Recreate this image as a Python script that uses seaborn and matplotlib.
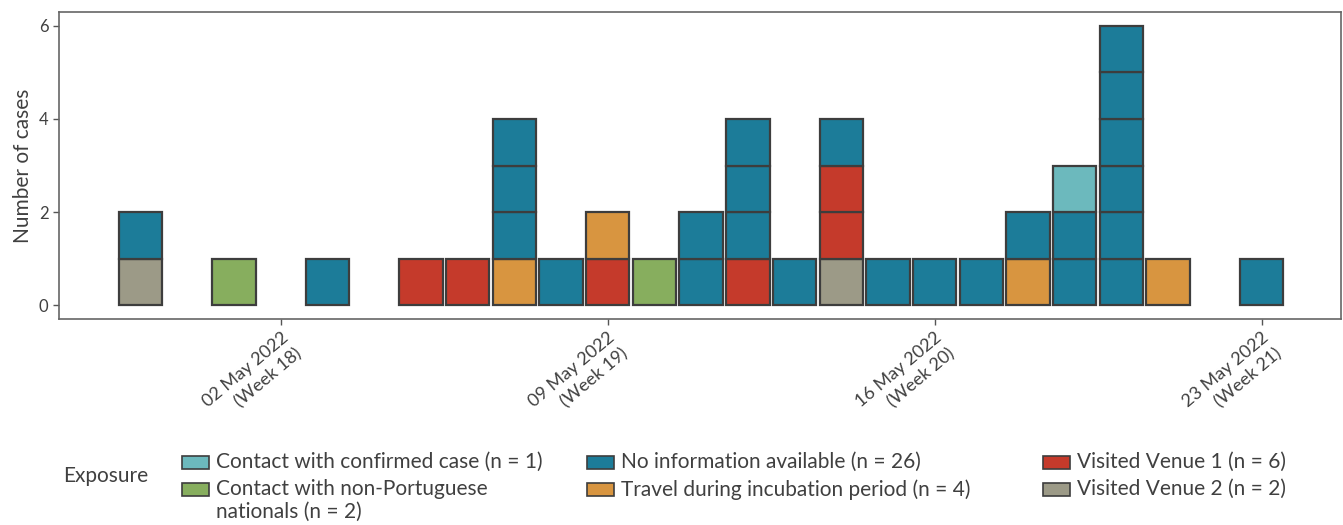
import numpy as np
import pandas as pd
import matplotlib
matplotlib.use("Agg")
import matplotlib.pyplot as plt
from matplotlib.patches import Rectangle
import seaborn as sns

# ---- data ----
dates = ["2022-04-29", "2022-05-01", "2022-05-03", "2022-05-05", "2022-05-06",
         "2022-05-07", "2022-05-08", "2022-05-09", "2022-05-10", "2022-05-11",
         "2022-05-12", "2022-05-13", "2022-05-14", "2022-05-15", "2022-05-16",
         "2022-05-17", "2022-05-18", "2022-05-19", "2022-05-20", "2022-05-21",
         "2022-05-23"]
contact_confirmed = [0, 0, 0, 0, 0, 0, 0, 0, 0, 0, 0, 0, 0, 0, 0, 0, 0, 1, 0, 0, 0]
contact_nonport   = [0, 1, 0, 0, 0, 0, 0, 0, 1, 0, 0, 0, 0, 0, 0, 0, 0, 0, 0, 0, 0]
no_information    = [1, 0, 1, 0, 0, 3, 1, 0, 0, 2, 3, 1, 1, 1, 1, 1, 1, 2, 6, 0, 1]
travel            = [0, 0, 0, 0, 0, 1, 0, 1, 0, 0, 0, 0, 0, 0, 0, 0, 1, 0, 0, 1, 0]
venue1            = [0, 0, 0, 1, 1, 0, 0, 1, 0, 0, 1, 0, 2, 0, 0, 0, 0, 0, 0, 0, 0]
venue2            = [1, 0, 0, 0, 0, 0, 0, 0, 0, 0, 0, 0, 1, 0, 0, 0, 0, 0, 0, 0, 0]

categories = ["Contact with confirmed case (n = 1)",
              "Contact with non-Portuguese\nnationals (n = 2)",
              "No information available (n = 26)",
              "Travel during incubation period (n = 4)",
              "Visited Venue 1 (n = 6)",
              "Visited Venue 2 (n = 2)"]
colors = ["#6cb9bd", "#87ae5e", "#1c7c99", "#d89540", "#c53a2b", "#9c9a87"]
tick_dates = ["2022-05-02", "2022-05-09", "2022-05-16", "2022-05-23"]
tick_labels = ["02 May 2022\n(Week 18)", "09 May 2022\n(Week 19)",
               "16 May 2022\n(Week 20)", "23 May 2022\n(Week 21)"]

series = [contact_confirmed, contact_nonport, no_information, travel, venue1, venue2]

# ---- style ----
sns.set_theme(style="white")
plt.rcParams['font.family'] = ['Lato', 'DejaVu Sans']
text_col = "#404040"

W, H = 1343, 525
fig = plt.figure(figsize=(W / 100, H / 100), dpi=100)
ax = fig.add_axes([0.0439, 0.3924, 0.9546, 0.5847])

ref = pd.Timestamp("2022-05-02")
x = np.array([(pd.Timestamp(d) - ref).days for d in dates], dtype=float)

# long-format table of individual cases, stacked bottom-up in reverse category order
rows = []
for i in range(len(dates)):
    level = 0
    for ci in reversed(range(len(categories))):
        for _ in range(series[ci][i]):
            rows.append(dict(x=x[i], level=level, cat=ci))
            level += 1
cases = pd.DataFrame(rows)

for _, r in cases.iterrows():
    ax.bar(r["x"], 1, bottom=r["level"], width=0.93, color=colors[int(r["cat"])],
           edgecolor="#3d3d3d", linewidth=1.6, align="center")

ax.set_xlim(-4.75, 22.7)
ax.set_ylim(-0.3, 6.3)
ax.set_yticks([0, 2, 4, 6])
ax.set_yticklabels(["0", "2", "4", "6"], color=text_col, fontsize=12)
tx = [(pd.Timestamp(d) - ref).days for d in tick_dates]
ax.set_xticks(tx)
ax.set_xticklabels(tick_labels, rotation=40, ha="right", rotation_mode="anchor",
                   color=text_col, fontsize=13)
for t in ax.get_xticklabels():
    t.set_linespacing(1.35)
ax.tick_params(axis="both", length=4, width=1, color="#555555", bottom=True, left=True)
ax.set_ylabel("Number of cases", fontsize=15, color=text_col)
for s in ax.spines.values():
    s.set_color("#666666")
    s.set_linewidth(1.2)

# legend (drawn manually to match layout)
fig.text(63 / W, 1 - 476 / H, "Exposure", fontsize=15, color=text_col,
         va="center", ha="left")
col_x = [182, 587, 1043]
row_y = [462, 489]
pw, ph = 27, 13
for c in range(3):
    for k in range(2):
        idx = 2 * c + k
        px, py = col_x[c], row_y[k]
        fig.patches.append(Rectangle((px / W, 1 - (py + ph / 2) / H), pw / W, ph / H,
                                     transform=fig.transFigure, facecolor=colors[idx],
                                     edgecolor="#3d3d3d", linewidth=1.2))
        fig.text((px + pw + 7) / W, 1 - (py - 10) / H, categories[idx], fontsize=15,
                 color=text_col, va="top", ha="left", linespacing=1.2)

fig.savefig("out.png", dpi=100)
